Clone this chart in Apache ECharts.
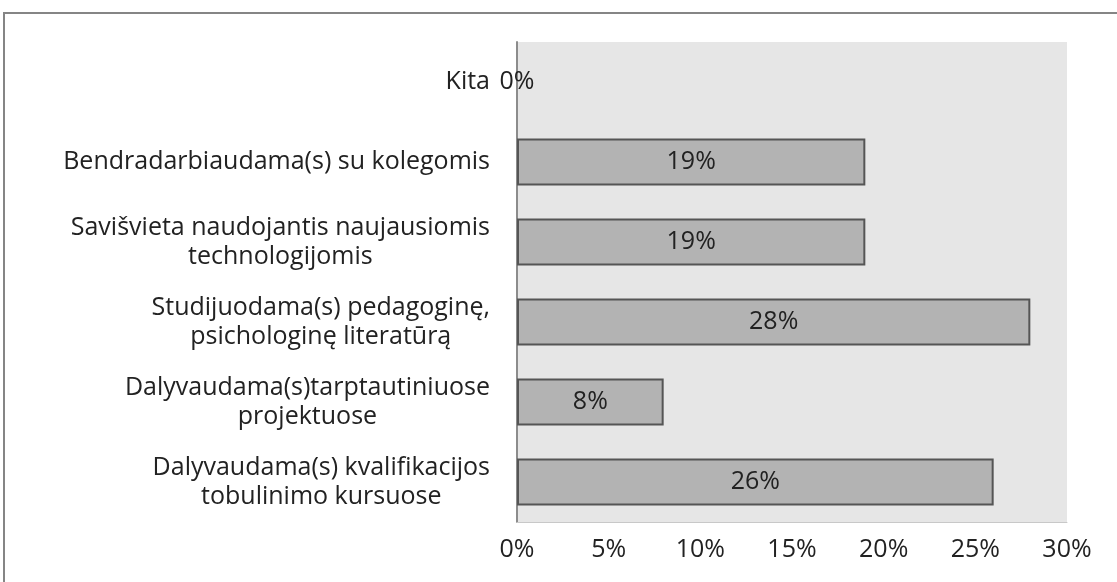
<!DOCTYPE html>
<html lang="lt">
<head>
    <meta charset="UTF-8">
    <title>Kvalifikacijos tobulinimas</title>
    <style>
        html,body{
            padding: 0;
            margin: 0;
            width: 100%;
            height: 100%;
            background: #fff;
        }
        .chart{
            width: 1117px;
            height: 582px;
        }
    </style>
    <script src="https://cdn.jsdelivr.net/npm/echarts@6/dist/echarts.min.js"></script>
</head>
<body>
<div class="chart"></div>
<script>
    // bottom to top, as in the picture
    let categories = [
        'Dalyvaudama(s) kvalifikacijos\ntobulinimo kursuose',
        'Dalyvaudama(s)tarptautiniuose\nprojektuose',
        'Studijuodama(s) pedagoginę,\npsichologinę literatūrą',
        'Savišvieta naudojantis naujausiomis\ntechnologijomis',
        'Bendradarbiaudama(s) su kolegomis',
        'Kita'
    ];
    let values = [26, 8, 28, 19, 19, 0];

    let font = 'Open Sans';
    let fs = 25;

    let myChart = echarts.init(document.querySelector('.chart'));

    // a 0 bar gets no outline, like in the original
    let barData = values.map(v => ({
        value: v,
        itemStyle: v === 0 ? {borderWidth: 0} : undefined
    }));

    let option = {
        animation: false,
        graphic: [{
            type: 'rect',
            shape: {x: 4, y: 13, width: 1130, height: 600},
            style: {fill: 'none', stroke: '#858585', lineWidth: 2},
            silent: true
        }],
        grid: {
            left: 517,
            right: 50,
            top: 42,
            bottom: 60,
            show: true,
            backgroundColor: '#e6e6e6',
            borderWidth: 0
        },
        xAxis: {
            type: 'value',
            min: 0,
            max: 30,
            interval: 5,
            axisLine: {show: true, lineStyle: {color: '#c8c8c8', width: 1}},
            axisTick: {show: false},
            splitLine: {show: false},
            axisLabel: {
                formatter: '{value}%',
                color: '#222',
                fontFamily: font,
                fontSize: fs,
                margin: 15
            }
        },
        yAxis: {
            type: 'category',
            data: categories,
            axisLine: {show: true, lineStyle: {color: '#8c8c8c', width: 2}},
            axisTick: {show: false},
            splitLine: {show: false},
            axisLabel: {
                color: '#222',
                margin: 27,
                formatter: function (v) {
                    return v.split('\n').map(l => '{c|' + l + '}').join('\n');
                },
                rich: {
                    c: {
                        align: 'center',
                        color: '#222',
                        fontFamily: font,
                        fontSize: fs,
                        lineHeight: 29
                    }
                }
            }
        },
        series: [{
            type: 'bar',
            data: barData,
            barWidth: 47,
            itemStyle: {
                color: '#b3b3b3',
                borderColor: '#555',
                borderWidth: 2
            },
            label: {
                show: true,
                position: 'inside',
                formatter: '{c}%',
                color: '#222',
                fontFamily: font,
                fontSize: fs
            }
        }]
    };

    myChart.setOption(option);
</script>
</body>
</html>
